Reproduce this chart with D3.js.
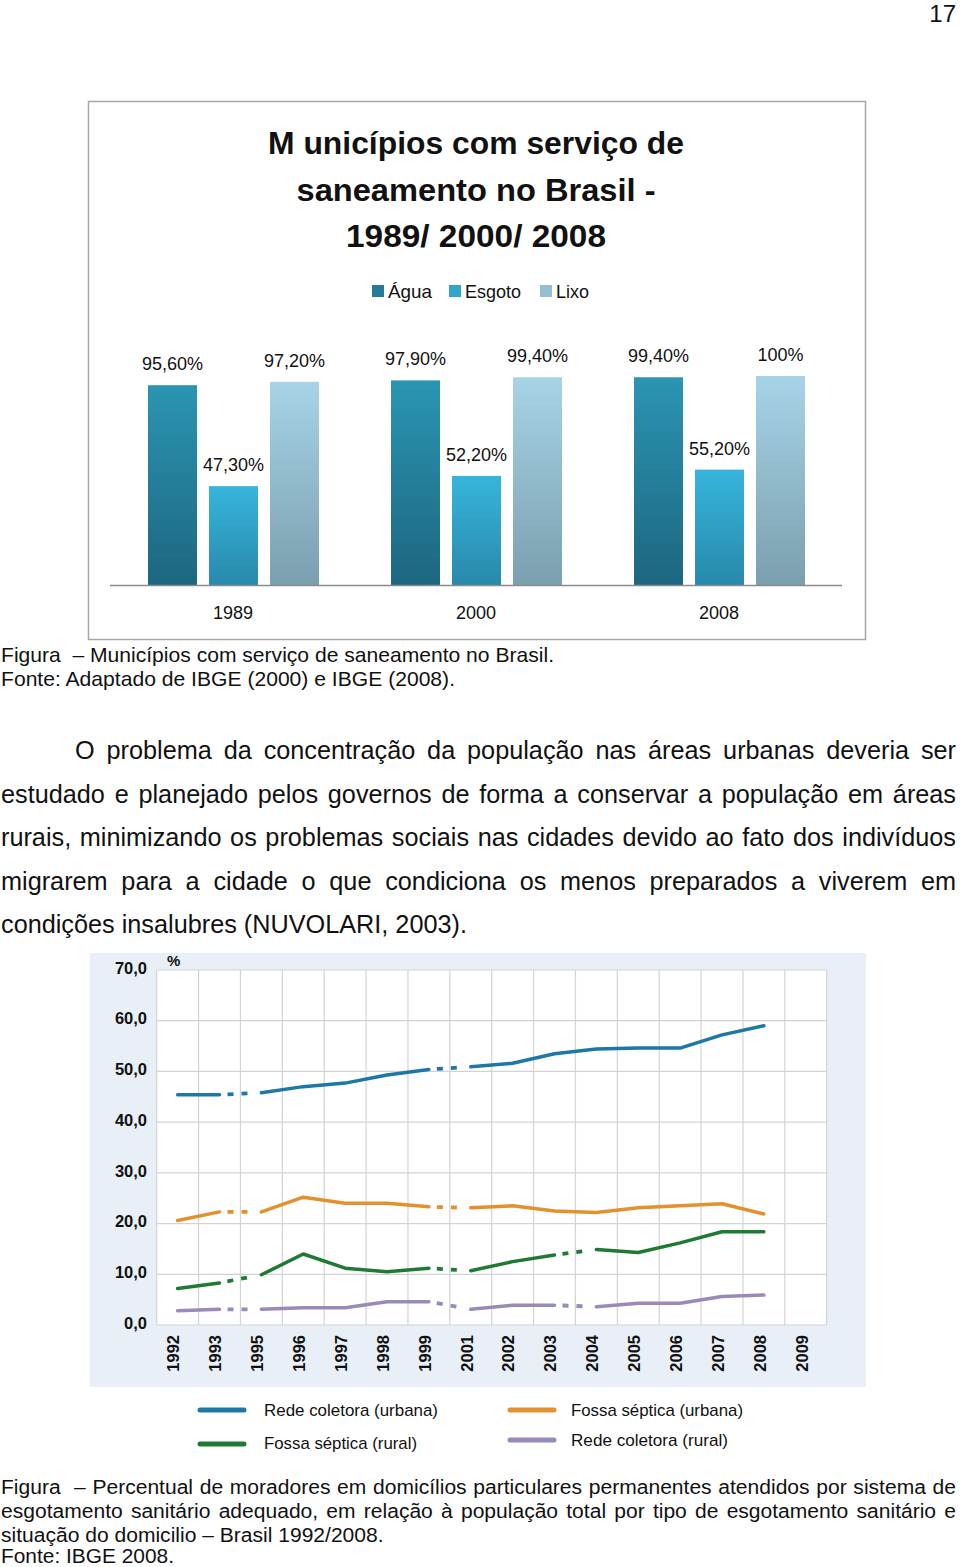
<!DOCTYPE html>
<html>
<head>
<meta charset="utf-8">
<script src="https://cdn.jsdelivr.net/npm/d3@7"></script>
<style>
  html, body { margin: 0; padding: 0; background: #fff; }
  svg { display: block; }
  text { font-family: "Liberation Sans", Arial, sans-serif; fill: #111; white-space: pre; }
</style>
</head>
<body>
<svg id="page" width="960" height="1567"></svg>
<script>
// ---------- DATA ----------
const barYears = ["1989", "2000", "2008"];
const barSeries = ["Água", "Esgoto", "Lixo"];
const agua = [95.6, 97.9, 99.4];
const esgoto = [47.3, 52.2, 55.2];
const lixo = [97.2, 99.4, 100];

const lineYears = ["1992","1993","1995","1996","1997","1998","1999","2001","2002","2003","2004","2005","2006","2007","2008","2009"];
const redeUrbana   = [45.4, 45.4, 45.8, 47.0, 47.7, 49.3, 50.4, 50.9, 51.6, 53.5, 54.4, 54.6, 54.6, 57.2, 59.0, null];
const fossaUrbana  = [20.6, 22.3, 22.3, 25.2, 24.0, 24.0, 23.3, 23.1, 23.5, 22.5, 22.2, 23.1, 23.5, 23.9, 21.9, null];
const fossaRural   = [7.2, 8.3, 9.9, 14.0, 11.2, 10.5, 11.2, 10.7, 12.5, 13.8, 14.9, 14.3, 16.2, 18.4, 18.4, null];
const redeRural    = [2.8, 3.1, 3.1, 3.4, 3.4, 4.6, 4.6, 3.1, 3.9, 3.9, 3.6, 4.3, 4.3, 5.6, 5.9, null];
const lineNames = ["Rede coletora (urbana)", "Fossa séptica (urbana)", "Fossa séptica (rural)", "Rede coletora (rural)"];
// segments (start year) drawn dashed because of gaps in the survey series
const dashedStartsUrban = ["1993", "1999"];
const dashedStartsRural = ["1993", "1999", "2003"];
const yTicks = [0, 10, 20, 30, 40, 50, 60, 70];

const titleLines = ["M unicípios com serviço de", "saneamento no Brasil -", "1989/ 2000/ 2008"];
const caption1 = ["Figura  – Municípios com serviço de saneamento no Brasil.", "Fonte: Adaptado de IBGE (2000) e IBGE (2008)."];
const bodyLines = [
  "O problema da concentração da população nas áreas urbanas deveria ser",
  "estudado e planejado pelos governos de forma a conservar a população em áreas",
  "rurais, minimizando os problemas sociais nas cidades devido ao fato dos indivíduos",
  "migrarem para a cidade o que condiciona os menos preparados a viverem em",
  "condições insalubres (NUVOLARI, 2003)."
];
const caption2 = [
  "Figura  – Percentual de moradores em domicílios particulares permanentes atendidos por sistema de",
  "esgotamento sanitário adequado, em relação à população total por tipo de esgotamento sanitário e",
  "situação do domicilio – Brasil 1992/2008.",
  "Fonte: IBGE 2008."
];

// ---------- HELPERS ----------
const svg = d3.select("#page");
function fitWidth(t, w) { // exact width via textLength
  t.attr("textLength", w).attr("lengthAdjust", "spacingAndGlyphs");
}
function justify(t, w) {
  const str = t.text();
  const n = (str.match(/ /g) || []).length;
  const L = t.node().getComputedTextLength();
  if (n > 0) t.attr("word-spacing", (w - L) / n);
}
function sizeFor(str, family, weight, target) {
  const t = svg.append("text").attr("font-family", family).attr("font-weight", weight)
    .attr("font-size", 20).text(str);
  const L = t.node().getComputedTextLength();
  t.remove();
  return 20 * target / L;
}
const fmtPct = v => (v === 100 ? "100" : v.toFixed(2).replace(".", ",")) + "%";

// ---------- PAGE NUMBER ----------
svg.append("text").attr("x", 956).attr("y", 22).attr("text-anchor", "end")
  .attr("font-size", 24).text("17");

// ---------- BAR CHART ----------
const bar = svg.append("g");
bar.append("rect").attr("x", 88.5).attr("y", 101.5).attr("width", 777).attr("height", 538)
  .attr("fill", "#fff").attr("stroke", "#a6a6a6").attr("stroke-width", 1.5);

const titleW = [416, 359, 260];
const titleY = [154, 201, 247];
titleLines.forEach((s, i) => {
  const t = bar.append("text").attr("x", 476).attr("y", titleY[i]).attr("text-anchor", "middle")
    .attr("font-size", 31).attr("font-weight", "bold").text(s);
  fitWidth(t, titleW[i]);
});

const defs = svg.append("defs");
const grads = [["#2b95b2", "#1d6680"], ["#37b5dc", "#2889ab"], ["#a6d4e6", "#7b9fae"]];
grads.forEach((g, i) => {
  const lg = defs.append("linearGradient").attr("id", "bg" + i).attr("x1", 0).attr("y1", 0).attr("x2", 0).attr("y2", 1);
  lg.append("stop").attr("offset", "0%").attr("stop-color", g[0]);
  lg.append("stop").attr("offset", "100%").attr("stop-color", g[1]);
});
const legendCols = ["#227c98", "#30a6cc", "#94bfd0"];

// legend
const legX = [372, 449, 540];
const legW = [44, 56, 33];
barSeries.forEach((s, i) => {
  bar.append("rect").attr("x", legX[i]).attr("y", 285).attr("width", 12).attr("height", 12).attr("fill", legendCols[i]);
  const t = bar.append("text").attr("x", legX[i] + 16).attr("y", 298).attr("font-size", 18.5).text(s);
  fitWidth(t, legW[i]);
});

const x0 = d3.scaleBand().domain(barYears).range([111.5, 840.5]);
const x1 = d3.scaleBand().domain(barSeries).range([36.5, 207.5]).paddingInner(0.197);
const yb = d3.scaleLinear().domain([0, 100]).range([585, 376]);
const barVals = [agua, esgoto, lixo];

barYears.forEach((yr, gi) => {
  const g = bar.append("g").attr("transform", `translate(${x0(yr)},0)`);
  barSeries.forEach((s, si) => {
    const v = barVals[si][gi];
    g.append("rect").attr("x", x1(s)).attr("y", yb(v)).attr("width", x1.bandwidth())
      .attr("height", yb(0) - yb(v)).attr("fill", `url(#bg${si})`);
    g.append("text").attr("x", x1(s) + x1.bandwidth() / 2).attr("y", yb(v) - 15)
      .attr("text-anchor", "middle").attr("font-size", 18).attr("fill", "#222").text(fmtPct(v));
  });
});
bar.append("line").attr("x1", 110).attr("x2", 842).attr("y1", 585.5).attr("y2", 585.5)
  .attr("stroke", "#8c8c8c").attr("stroke-width", 1.5);
const xAxisB = d3.axisBottom(x0).tickSize(0).tickPadding(0);
const gxb = bar.append("g").attr("transform", "translate(0,606)").call(xAxisB);
gxb.select(".domain").remove();
gxb.selectAll("text").attr("font-size", 18).attr("fill", "#222").attr("dy", "0.71em")
  .attr("font-family", "Liberation Sans, Arial, sans-serif");

// ---------- CAPTION 1 ----------
const capSize = sizeFor(caption1[1], "Liberation Sans", "normal", 454);
const cap1W = [553, 454];
caption1.forEach((s, i) => {
  const t = svg.append("text").attr("x", 1).attr("y", 662 + i * 24).attr("font-size", capSize).attr("fill", "#111").text(s);
  fitWidth(t, cap1W[i]);
});

// ---------- BODY TEXT ----------
const bodySize = sizeFor(bodyLines[4], "Liberation Sans", "normal", 466);
const bodyY = [759, 803, 846, 890, 933];
bodyLines.forEach((s, i) => {
  const x = i === 0 ? 75 : 1;
  const t = svg.append("text").attr("x", x).attr("y", bodyY[i]).attr("font-size", bodySize).attr("fill", "#111").text(s);
  if (i < 4) justify(t, 956 - x);
});

// ---------- LINE CHART ----------
const lc = svg.append("g");
lc.append("rect").attr("x", 90).attr("y", 953).attr("width", 776).attr("height", 434).attr("fill", "#e8eff6");
const xl = d3.scaleBand().domain(lineYears).range([156.7, 826.7]);
const yl = d3.scaleLinear().domain([0, 70]).range([1325, 970]);
lc.append("rect").attr("x", 156.7).attr("y", 970).attr("width", 670).attr("height", 355).attr("fill", "#fff");

// grid
lc.append("g").selectAll("line").data(yTicks).join("line")
  .attr("x1", 156.7).attr("x2", 826.7).attr("y1", d => yl(d)).attr("y2", d => yl(d))
  .attr("stroke", "#d3d3d3").attr("stroke-width", 1.2);
const vLines = lineYears.map(d => xl(d)).concat([826.7]);
lc.append("g").selectAll("line").data(vLines).join("line")
  .attr("x1", d => d).attr("x2", d => d).attr("y1", 970).attr("y2", 1325)
  .attr("stroke", "#d3d3d3").attr("stroke-width", 1.2);

// y axis labels
const yAxis = d3.axisLeft(yl).tickValues(yTicks).tickSize(0).tickPadding(0)
  .tickFormat(d => d3.format(".1f")(d).replace(".", ","));
const gy = lc.append("g").attr("transform", "translate(147,-2)").call(yAxis);
gy.select(".domain").remove();
gy.selectAll("text").attr("font-size", 16.5).attr("font-family", "Roboto, Liberation Sans, sans-serif")
  .attr("font-weight", 700).attr("fill", "#333");
lc.append("text").attr("x", 167).attr("y", 966).attr("font-size", 15)
  .attr("font-family", "Roboto, sans-serif").attr("font-weight", 700).attr("fill", "#333").text("%");

// x axis labels (rotated)
const xAxisL = d3.axisBottom(xl).tickSize(0).tickPadding(0);
const gxl = lc.append("g").attr("transform", "translate(0,1335)").call(xAxisL);
gxl.select(".domain").remove();
gxl.selectAll("text").attr("font-size", 16.5).attr("font-family", "Roboto, Liberation Sans, sans-serif")
  .attr("font-weight", 700).attr("fill", "#333")
  .attr("text-anchor", "end").attr("transform", "translate(-4,0) rotate(-90)")
  .attr("x", 0).attr("y", 0).attr("dx", 0).attr("dy", "0.35em");

// lines
const seriesList = [
  { name: lineNames[0], vals: redeUrbana, color: "#1d78a8", dashed: dashedStartsUrban },
  { name: lineNames[1], vals: fossaUrbana, color: "#e2912c", dashed: dashedStartsUrban },
  { name: lineNames[2], vals: fossaRural, color: "#1f7a34", dashed: dashedStartsRural },
  { name: lineNames[3], vals: redeRural, color: "#9a8aba", dashed: dashedStartsRural }
];
const cx = yr => xl(yr) + xl.bandwidth() / 2;
const lineGen = d3.line().x(d => cx(d.year)).y(d => yl(d.v));
seriesList.forEach(s => {
  const pts = lineYears.map((yr, i) => ({ year: yr, v: s.vals[i] })).filter(d => d.v != null);
  let runs = [[pts[0]]];
  const dashSegs = [];
  for (let i = 1; i < pts.length; i++) {
    if (s.dashed.includes(pts[i - 1].year)) {
      dashSegs.push([pts[i - 1], pts[i]]);
      runs.push([pts[i]]);
    } else {
      runs[runs.length - 1].push(pts[i]);
    }
  }
  runs.filter(r => r.length > 1).forEach(r => {
    lc.append("path").attr("d", lineGen(r)).attr("fill", "none").attr("stroke", s.color)
      .attr("stroke-width", 3.5).attr("stroke-linejoin", "round").attr("stroke-linecap", "round");
  });
  dashSegs.forEach(seg => {
    lc.append("path").attr("d", lineGen(seg)).attr("fill", "none").attr("stroke", s.color)
      .attr("stroke-width", 3.8).attr("stroke-dasharray", "0 8 6 8 6 200");
  });
});

// legend
const lgPos = [
  { x: 200, y: 1410, tx: 264, ty: 1416, w: 174 },
  { x: 510, y: 1410, tx: 571, ty: 1416, w: 172 },
  { x: 200, y: 1444, tx: 264, ty: 1449, w: 153 },
  { x: 510, y: 1440, tx: 571, ty: 1446, w: 157 }
];
seriesList.forEach((s, i) => {
  const p = lgPos[i];
  lc.append("line").attr("x1", p.x).attr("x2", p.x + 44).attr("y1", p.y).attr("y2", p.y)
    .attr("stroke", s.color).attr("stroke-width", 5).attr("stroke-linecap", "round");
  const t = lc.append("text").attr("x", p.tx).attr("y", p.ty).attr("font-size", 17)
    .attr("font-family", "Roboto, Liberation Sans, sans-serif").attr("font-weight", 500).attr("fill", "#333").text(s.name);
  fitWidth(t, p.w);
});

// ---------- CAPTION 2 ----------
const cap2Size = sizeFor(caption2[2], "Liberation Sans", "normal", 383);
const cap2Y = [1494, 1518, 1542, 1563];
caption2.forEach((s, i) => {
  const t = svg.append("text").attr("x", 1).attr("y", cap2Y[i]).attr("font-size", cap2Size).attr("fill", "#111").text(s);
  if (i < 2) justify(t, 955);
  else if (i === 3) fitWidth(t, 173);
});
</script>
</body>
</html>
